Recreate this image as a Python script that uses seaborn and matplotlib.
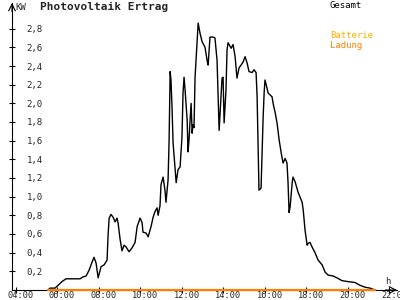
import matplotlib
matplotlib.use("Agg")
import matplotlib.pyplot as plt
import matplotlib.transforms as mtransforms
import seaborn as sns
import pandas as pd

# ---- data ----
time_h = [5.57, 5.66, 5.90, 6.00, 6.24, 6.43, 7.11, 7.25, 7.40, 7.54, 7.69, 7.78, 7.88, 7.98,
          8.12, 8.27, 8.41, 8.46, 8.51, 8.60, 8.70, 8.80, 8.89, 8.94, 9.04, 9.13, 9.23, 9.33,
          9.47, 9.61, 9.76, 9.86, 10.00, 10.10, 10.14, 10.29, 10.39, 10.53, 10.63, 10.72,
          10.82, 10.87, 10.96, 11.01, 11.11, 11.20, 11.25, 11.35, 11.40, 11.45, 11.49, 11.54,
          11.59, 11.69, 11.74, 11.78, 11.83, 11.93, 12.02, 12.07, 12.12, 12.17, 12.27, 12.31,
          12.36, 12.41, 12.46, 12.51, 12.55, 12.60, 12.65, 12.75, 12.80, 12.89, 12.99, 13.13,
          13.23, 13.28, 13.33, 13.37, 13.52, 13.61, 13.71, 13.76, 13.81, 13.90, 13.95, 14.00,
          14.05, 14.14, 14.19, 14.24, 14.39, 14.48, 14.58, 14.67, 14.77, 14.96, 15.06, 15.16,
          15.25, 15.40, 15.49, 15.59, 15.64, 15.73, 15.83, 15.93, 15.98, 16.02, 16.12, 16.17,
          16.36, 16.41, 16.51, 16.60, 16.70, 16.80, 16.89, 16.99, 17.08, 17.13, 17.18, 17.23,
          17.33, 17.37, 17.47, 17.61, 17.81, 17.86, 17.95, 18.05, 18.10, 18.19, 18.29, 18.43,
          18.58, 18.77, 18.92, 19.06, 19.30, 19.49, 19.73, 20.02, 20.36, 20.60, 20.84, 21.08,
          21.32]
gesamt_kw = [0.00, 0.02, 0.02, 0.04, 0.09, 0.12, 0.12, 0.14, 0.15, 0.21, 0.30, 0.35, 0.29, 0.13,
             0.25, 0.27, 0.32, 0.59, 0.77, 0.81, 0.78, 0.73, 0.77, 0.72, 0.54, 0.42, 0.48, 0.46,
             0.41, 0.45, 0.51, 0.68, 0.77, 0.72, 0.62, 0.61, 0.57, 0.68, 0.78, 0.84,
             0.88, 0.80, 0.90, 1.13, 1.21, 1.07, 0.94, 1.18, 1.61, 2.34, 2.25, 1.96,
             1.58, 1.29, 1.15, 1.21, 1.29, 1.32, 1.64, 2.11, 2.28, 2.14, 1.82, 1.48,
             1.61, 1.82, 2.00, 1.68, 1.77, 1.74, 2.28, 2.68, 2.86, 2.75, 2.66, 2.60,
             2.46, 2.41, 2.57, 2.71, 2.71, 2.70, 2.46, 2.07, 1.71, 2.07, 2.27, 2.28,
             1.79, 2.14, 2.57, 2.65, 2.59, 2.63, 2.50, 2.27, 2.38, 2.44, 2.50, 2.43,
             2.34, 2.33, 2.36, 2.33, 2.07, 1.07, 1.09, 1.85, 2.12, 2.25, 2.16, 2.11,
             2.07, 2.00, 1.90, 1.79, 1.61, 1.47, 1.36, 1.41, 1.36, 1.15, 0.83, 0.89,
             1.15, 1.21, 1.16, 1.05, 0.94, 0.86, 0.64, 0.48, 0.50, 0.51, 0.46, 0.40,
             0.32, 0.27, 0.19, 0.16, 0.15, 0.13, 0.10, 0.09, 0.08, 0.05, 0.03, 0.02,
             0.00]
ladung_time_h = [5.57, 21.32]
ladung_kw = [0.0, 0.0]

x_ticks = [4, 6, 8, 10, 12, 14, 16, 18, 20, 22]
x_tick_labels = ["04:00", "06:00", "08:00", "10:00", "12:00", "14:00", "16:00", "18:00", "20:00", "22:00"]
y_ticks = [0.2, 0.4, 0.6, 0.8, 1.0, 1.2, 1.4, 1.6, 1.8, 2.0, 2.2, 2.4, 2.6, 2.8]
y_tick_labels = ["0,2", "0,4", "0,6", "0,8", "1,0", "1,2", "1,4", "1,6", "1,8", "2,0",
                 "2,2", "2,4", "2,6", "2,8"]

title = "Photovoltaik Ertrag"
y_unit = "KW"
x_unit = "h"
legend_gesamt = "Gesamt"
legend_batterie = "Batterie"
legend_ladung = "Ladung"

# ---- style ----
sns.set_theme(style="white")
plt.rcParams["font.family"] = ["DejaVu Sans Mono", "DejaVu Sans"]

W, H = 400, 300
fig = plt.figure(figsize=(4, 3), dpi=100)
fig.patch.set_facecolor("white")
ax = fig.add_axes([12 / W, 10 / H, 385 / W, 287 / H])
ax.set_facecolor("white")

df = pd.DataFrame({"Zeit": time_h, "kW": gesamt_kw})
sns.lineplot(data=df, x="Zeit", y="kW", color="black", linewidth=1.0, ax=ax,
             estimator=None, sort=False)
dfl = pd.DataFrame({"Zeit": ladung_time_h, "kW": ladung_kw})
sns.lineplot(data=dfl, x="Zeit", y="kW", color="#FF8000", linewidth=1.6, ax=ax,
             estimator=None, sort=False, zorder=5)
for ln in ax.get_lines():
    ln.set_clip_on(False)

ax.set_xlim(3.83, 22.38)
ax.set_ylim(0, 3.075)
ax.set_xlabel("")
ax.set_ylabel("")

for s in ["top", "right"]:
    ax.spines[s].set_visible(False)
for s in ["left", "bottom"]:
    ax.spines[s].set_color("black")
    ax.spines[s].set_linewidth(0.8)

# arrows at axis ends
ax.annotate("", xy=(1.0, 0), xytext=(0.97, 0), xycoords="axes fraction",
            arrowprops=dict(arrowstyle="->", color="black", lw=0.8, shrinkA=0, shrinkB=0))
ax.annotate("", xy=(0, 1.0), xytext=(0, 0.97), xycoords="axes fraction",
            arrowprops=dict(arrowstyle="->", color="black", lw=0.8, shrinkA=0, shrinkB=0))

ax.set_xticks(x_ticks)
ax.set_xticklabels(x_tick_labels, fontsize=6.2)
ax.set_yticks(y_ticks)
ax.set_yticklabels(y_tick_labels, fontsize=6.5)
ax.tick_params(axis="both", direction="inout", length=5, width=0.8, color="black",
               bottom=True, left=True)
ax.tick_params(axis="x", pad=-1.5)
ax.tick_params(axis="y", pad=-13)
for lab in ax.get_yticklabels():
    lab.set_horizontalalignment("left")
off = mtransforms.ScaledTranslation(5 / 100, 0, fig.dpi_scale_trans)
for lab in ax.get_xticklabels():
    lab.set_transform(lab.get_transform() + off)

# texts
fig.text(40 / W, 1 - 7 / H, title, fontsize=8, fontweight="bold", va="center", ha="left")
fig.text(15 / W, 1 - 7 / H, y_unit, fontsize=6.5, va="center", ha="left")
fig.text(385 / W, 1 - 282 / H, x_unit, fontsize=6.5, va="center", ha="left")
fig.text(330 / W, 1 - 5 / H, legend_gesamt, fontsize=6.5, va="center", ha="left", color="black")
fig.text(330 / W, 1 - 36 / H, legend_batterie, fontsize=6.5, va="center", ha="left", color="#FFB000")
fig.text(330 / W, 1 - 45 / H, legend_ladung, fontsize=6.5, va="center", ha="left", color="#FF8000")

fig.savefig("out.png", dpi=100, facecolor="white")
